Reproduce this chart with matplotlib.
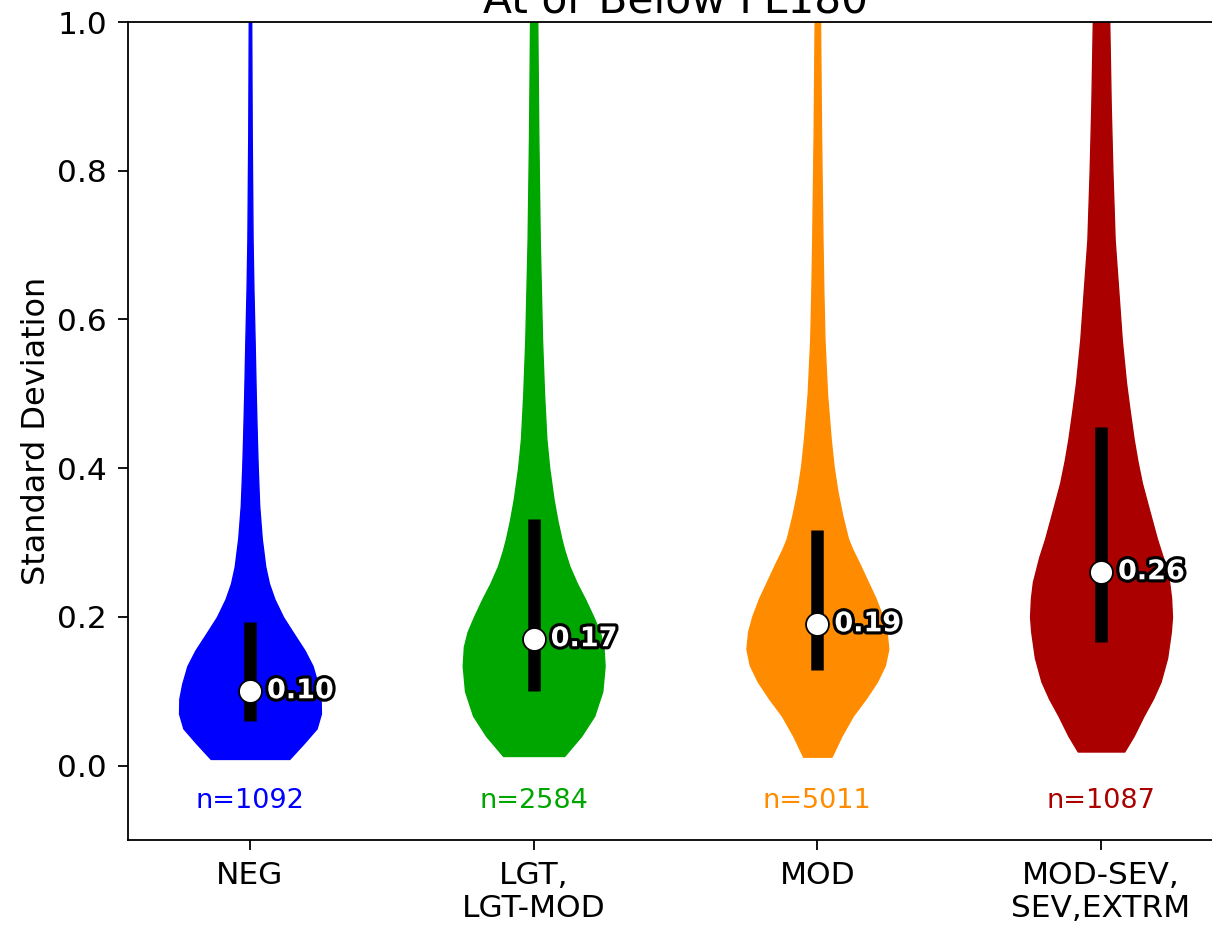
import numpy as np
import matplotlib
matplotlib.use('Agg')
import matplotlib.pyplot as plt
import matplotlib.patheffects as pe

categories = ['NEG', 'LGT,\nLGT-MOD', 'MOD', 'MOD-SEV,\nSEV,EXTRM']
counts = [1092, 2584, 5011, 1087]
colors = ['#0000ff', '#00a600', '#ff8c00', '#aa0000']

medians = [0.10, 0.17, 0.19, 0.26]
q1 = [0.060, 0.100, 0.128, 0.166]
q3 = [0.193, 0.332, 0.317, 0.456]

# density profiles (std dev value, relative density)
neg_y = [0.009, 0.03, 0.05, 0.07, 0.09, 0.11, 0.134, 0.155, 0.18, 0.20, 0.224, 0.245,
         0.268, 0.29, 0.305, 0.35, 0.40, 0.439, 0.50, 0.573, 0.64, 0.707, 0.85, 1.02]
neg_d = [0.137, 0.187, 0.232, 0.247, 0.246, 0.236, 0.218, 0.19, 0.148, 0.115, 0.085, 0.066,
         0.053, 0.046, 0.041, 0.032, 0.027, 0.024, 0.020, 0.016, 0.012, 0.009, 0.006, 0.004]

lgt_y = [0.013, 0.04, 0.067, 0.10, 0.134, 0.16, 0.18, 0.20, 0.224, 0.245, 0.268, 0.29,
         0.305, 0.33, 0.358, 0.40, 0.439, 0.50, 0.573, 0.64, 0.707, 0.85, 1.02]
lgt_d = [0.106, 0.165, 0.21, 0.238, 0.246, 0.242, 0.229, 0.207, 0.178, 0.150, 0.124, 0.106,
         0.096, 0.082, 0.069, 0.054, 0.044, 0.036, 0.029, 0.025, 0.021, 0.016, 0.012]

mod_y = [0.012, 0.04, 0.067, 0.09, 0.113, 0.135, 0.157, 0.18, 0.201, 0.225, 0.247, 0.27,
         0.291, 0.305, 0.336, 0.37, 0.403, 0.439, 0.50, 0.573, 0.64, 0.707, 0.85, 1.02]
mod_d = [0.05, 0.085, 0.125, 0.17, 0.21, 0.238, 0.25, 0.244, 0.229, 0.205, 0.178, 0.150,
         0.123, 0.108, 0.088, 0.070, 0.057, 0.047, 0.034, 0.025, 0.021, 0.018, 0.013, 0.009]

sev_y = [0.019, 0.04, 0.067, 0.09, 0.113, 0.145, 0.18, 0.20, 0.225, 0.247, 0.28, 0.305,
         0.35, 0.38, 0.41, 0.439, 0.48, 0.515, 0.573, 0.627, 0.707, 0.80, 0.89, 1.02]
sev_d = [0.082, 0.115, 0.15, 0.183, 0.21, 0.233, 0.246, 0.25, 0.247, 0.24, 0.218, 0.197,
         0.165, 0.144, 0.128, 0.115, 0.100, 0.088, 0.073, 0.063, 0.048, 0.040, 0.034, 0.028]

profiles = [(neg_y, neg_d), (lgt_y, lgt_d), (mod_y, mod_d), (sev_y, sev_d)]

fig = plt.figure(figsize=(12.12, 9.27), dpi=100)
ax = fig.add_axes([128 / 1212, 87 / 927, 1095 / 1212, 818 / 927])

positions = np.arange(1, len(categories) + 1)

stats = []
for (ys, ds), med in zip(profiles, medians):
    stats.append({'coords': np.array(ys), 'vals': np.array(ds),
                  'mean': med, 'median': med, 'min': ys[0], 'max': ys[-1]})

parts = ax.violin(stats, positions=positions, widths=0.5,
                  showmeans=False, showextrema=False, showmedians=False)
for body, c in zip(parts['bodies'], colors):
    body.set_facecolor(c)
    body.set_edgecolor(c)
    body.set_alpha(1)

ax.vlines(positions, q1, q3, color='black', linewidth=9, zorder=3)
ax.plot(positions, medians, 'o', markersize=16.5, markerfacecolor='white',
        markeredgecolor='black', markeredgewidth=1.3, zorder=4)

for x, m in zip(positions, medians):
    ax.annotate('%.2f' % m, (x, m), xytext=(17, 0), textcoords='offset pixels',
                ha='left', va='center', fontsize=19.5, fontweight='bold', color='white',
                path_effects=[pe.withStroke(linewidth=4.5, foreground='black')], zorder=5)

for x, n, c in zip(positions, counts, colors):
    ax.text(x, -0.047, 'n=%d' % n, ha='center', va='center', fontsize=19.5, color=c)

ax.set_xlim(0.57, 4.43)
ax.set_ylim(-0.1, 1.0)
ax.set_yticks([0.0, 0.2, 0.4, 0.6, 0.8, 1.0])
ax.set_xticks(positions)
ax.set_xticklabels(categories)
ax.tick_params(labelsize=22.5, length=7, width=1.3, pad=8)
ax.set_ylabel('Standard Deviation', fontsize=23)
ax.set_title('At or Below FL180', fontsize=30.5)
for s in ax.spines.values():
    s.set_linewidth(1.3)

fig.savefig('out.png', dpi=100)
